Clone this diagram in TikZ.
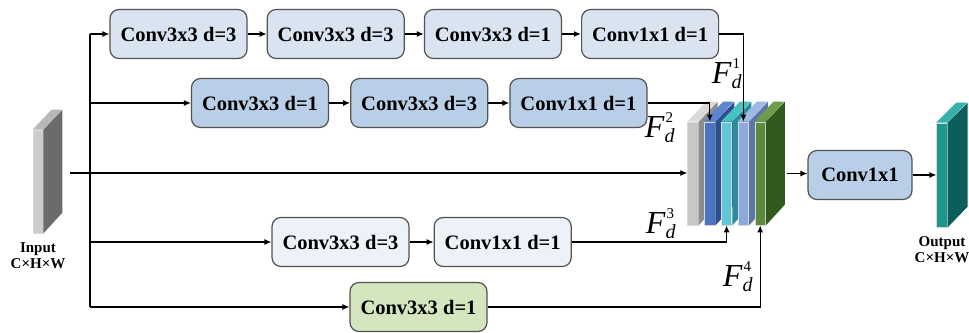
\documentclass[tikz,border=0pt]{standalone}
\usepackage{fontspec}
\setmainfont{Liberation Serif}
\usetikzlibrary{arrows.meta,positioning,calc}
\definecolor{boxa}{HTML}{DAE3F0}
\definecolor{boxb}{HTML}{B9CFE7}
\definecolor{boxc}{HTML}{EDF2F8}
\definecolor{boxd}{HTML}{D3E6C0}
\definecolor{blueF}{RGB}{74,116,192}
\definecolor{blueT}{RGB}{92,132,207}
\definecolor{blueS}{RGB}{46,79,143}
\definecolor{cyanF}{RGB}{98,198,216}
\definecolor{cyanT}{RGB}{70,194,194}
\definecolor{cyanS}{RGB}{43,140,154}
\definecolor{periF}{RGB}{142,168,220}
\definecolor{periT}{RGB}{160,184,228}
\definecolor{periS}{RGB}{93,118,168}
\definecolor{greenF}{RGB}{90,138,58}
\definecolor{greenT}{RGB}{109,155,74}
\definecolor{greenS}{RGB}{50,90,30}
\definecolor{tealF}{RGB}{30,150,144}
\definecolor{tealT}{RGB}{56,176,170}
\definecolor{tealS}{RGB}{12,94,90}
\tikzset{
  convbox/.style={draw=black!68, line width=1.2pt, rounded corners=9pt,
    font=\bfseries\fontsize{20.5}{22}\selectfont, minimum width=137pt,
    minimum height=49pt, inner sep=2pt},
  slab/.style={draw=white!85!black, line width=0.8pt, minimum width=10.5pt,
    minimum height=103pt, inner sep=0pt},
  flabel/.style={font=\itshape\fontsize{32}{32}\selectfont, inner sep=0pt},
  iolabel/.style={font=\bfseries\fontsize{15}{16}\selectfont, align=center,
    inner sep=0pt},
  arrow/.style={-{Latex[length=7pt,width=6pt]}, line width=1.2pt},
  link/.style={line width=1.2pt}
}
% top and side face of a feature slab: node, top colour, side colour
\newcommand{\slabfaces}[3]{%
  \fill[#3] (#1.north east) -- ++(19,-20) -- ++(0,103) -- (#1.south east) -- cycle;
  \fill[#2] (#1.north west) -- ++(19,-20) -- ++(10.5,0) -- (#1.north east) -- cycle;
}
% branch feature label F_d^k
\newcommand{\featlabel}[1]{%
  F\raisebox{-5pt}{\fontsize{20}{20}\selectfont d}%
  \hspace{-9pt}\raisebox{15pt}{\upshape\fontsize{15}{15}\selectfont #1}}

\begin{document}
\begin{tikzpicture}[x=1pt, y=-1pt, node distance=19pt]
  \useasboundingbox (0,0) rectangle (969,332);

  % input
  \node[slab, fill=black!20, minimum width=10pt] (inp) at (38,181.5) {};
  \slabfaces{inp}{black!28}{black!58}
  \node[iolabel, below=9pt of inp] (inlab) {Input\\C×H×W};

  % branches
  \node[convbox, fill=boxa] (b11) at (178.5,34) {Conv3x3 d=3};
  \node[convbox, fill=boxa, right=of b11] (b12) {Conv3x3 d=3};
  \node[convbox, fill=boxa, right=of b12] (b13) {Conv3x3 d=1};
  \node[convbox, fill=boxa, right=of b13] (b14) {Conv1x1 d=1};

  \node[convbox, fill=boxb] (b21) at (260,103) {Conv3x3 d=1};
  \node[convbox, fill=boxb, right=21pt of b21] (b22) {Conv3x3 d=3};
  \node[convbox, fill=boxb, right=21pt of b22] (b23) {Conv1x1 d=1};

  \node[convbox, fill=boxc] (b41) at (340.5,242) {Conv3x3 d=3};
  \node[convbox, fill=boxc, right=24pt of b41] (b42) {Conv1x1 d=1};

  \node[convbox, fill=boxd] (b51) at (418.5,307) {Conv3x3 d=1};

  % concatenated features
  \node[slab, fill=black!22] (cat1) at (693,173.5) {};
  \slabfaces{cat1}{black!14}{black!45}
  \node[slab, fill=blueF, right=5.5pt of cat1] (cat2) {};
  \slabfaces{cat2}{blueT}{blueS}
  \node[slab, fill=cyanF, right=5.5pt of cat2] (cat3) {};
  \slabfaces{cat3}{cyanT}{cyanS}
  \node[slab, fill=periF, right=5.5pt of cat3] (cat4) {};
  \slabfaces{cat4}{periT}{periS}
  \node[slab, fill=greenF, right=5.5pt of cat4] (cat5) {};
  \slabfaces{cat5}{greenT}{greenS}

  \node[flabel] (f1) at (726,74) {\featlabel{1}};
  \node[flabel] (f2) at (659,128) {\featlabel{2}};
  \node[flabel] (f3) at (660,224) {\featlabel{3}};
  \node[flabel] (f4) at (737,277) {\featlabel{4}};

  % fusion and output
  \node[convbox, fill=boxb, minimum width=104pt] (conv) at (860,175) {Conv1x1};
  \node[slab, fill=tealF, minimum height=104pt] (outp) at (942,175) {};
  \fill[tealS] (outp.north east) -- ++(20,-20) -- ++(0,104) -- (outp.south east) -- cycle;
  \fill[tealT] (outp.north west) -- ++(20,-20) -- ++(10.5,0) -- (outp.north east) -- cycle;
  \node[iolabel, below=9pt of outp] (outlab) {Output\\C×H×W};

  \coordinate (ttop) at (90,34);
  \coordinate (tbot) at (90,307);
  \coordinate (start) at (70,173);
  \coordinate (catout) at ([xshift=21pt]cat5.east);

  \draw[link] (ttop) -- (tbot);
  \draw[arrow] (ttop) -- (b11);
  \draw[arrow] (b11) -- (b12);
  \draw[arrow] (b12) -- (b13);
  \draw[arrow] (b13) -- (b14);
  \draw[arrow] (b21 -| ttop) -- (b21);
  \draw[arrow] (b21) -- (b22);
  \draw[arrow] (b22) -- (b23);
  \draw[arrow] (start) -- (start -| cat1.west);
  \draw[arrow] (b41 -| ttop) -- (b41);
  \draw[arrow] (b41) -- (b42);
  \draw[arrow] (tbot) -- (b51);

  \draw[arrow] (b14.east) -| (cat4.north);
  \draw[arrow] (b23.east) -| (cat2.north);
  \draw[arrow] (b42.east) -| (cat3.south);
  \draw[arrow] (b51.east) -| (cat5.south);

  \draw[arrow] (catout) -- (conv.west |- catout);
  \draw[arrow] (conv) -- (outp.west |- conv);
\end{tikzpicture}
\end{document}
